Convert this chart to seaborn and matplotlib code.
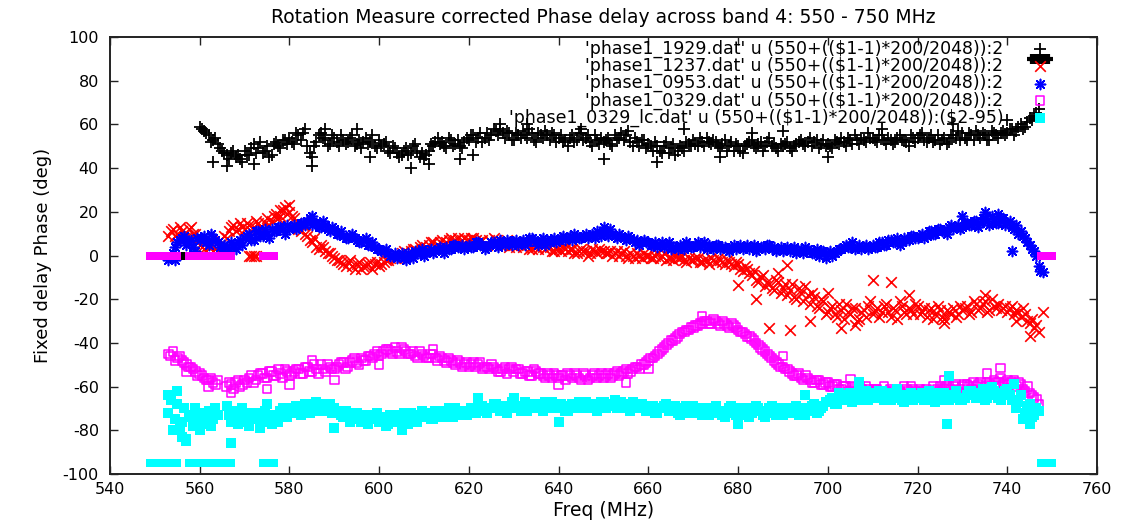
import numpy as np
import matplotlib
matplotlib.use("Agg")
import matplotlib.pyplot as plt
import seaborn as sns

# ---------------- data ----------------
# Each source has channels on a 0.5 MHz grid: "a" lists hold the whole-MHz
# channels, "b" lists the half-MHz channels in between; "out" lists hold the
# scattered stray channels (freq, value).
start_1929 = 560
phase_1929_a = [
    59, 57, 55, 53, 51, 48, 46, 47, 45, 44,
    48, 46, 51, 49, 47, 50, 46, 52, 49, 53,
    54, 51, 55, 56, 50, 45, 52, 56, 53, 51,
    54, 50, 53, 52, 55, 51, 49, 54, 52, 50,
    53, 51, 48, 50, 47, 46, 49, 47, 51, 45,
    44, 48, 50, 54, 52, 49, 53, 51, 50, 52,
    53, 55, 54, 52, 56, 55, 57, 58, 54, 56,
    53, 55, 57, 54, 56, 52, 55, 57, 53, 55,
    54, 52, 50, 55, 53, 56, 54, 52, 55, 51,
    52, 54, 50, 53, 56, 55, 52, 54, 50, 53,
    51, 48, 50, 47, 52, 49, 46, 50, 48, 51,
    53, 50, 52, 54, 51, 52, 49, 53, 50, 48,
    50, 47, 51, 53, 49, 52, 50, 54, 51, 48,
    50, 52, 48, 51, 53, 50, 54, 52, 49, 53,
    51, 49, 52, 54, 50, 53, 55, 51, 53, 56,
    54, 52, 55, 51, 53, 52, 55, 53, 50, 54,
    54, 56, 52, 55, 53, 51, 54, 52, 55, 57,
    56, 53, 55, 57, 54, 55, 53, 56, 54, 57,
    56, 58, 57, 60, 59, 63, 64, 67,
]
phase_1929_b = [
    58, 56, 52, 54, 49, 47, 44, 48, 46, 43,
    46, 49, 47, 52, 48, 45, 51, 50, 53, 51,
    52, 56, 53, 58, 47, 50, 55, 54, 50, 55,
    52, 55, 51, 54, 50, 53, 52, 51, 55, 49,
    50, 52, 47, 49, 45, 48, 46, 50, 48, 47,
    46, 51, 52, 51, 50, 54, 50, 53, 49, 54,
    55, 52, 56, 54, 53, 58, 55, 56, 57, 53,
    56, 54, 55, 58, 53, 56, 54, 55, 56, 52,
    55, 53, 54, 52, 56, 53, 55, 50, 53, 54,
    53, 51, 55, 54, 53, 57, 50, 52, 53, 49,
    50, 52, 48, 50, 47, 51, 48, 49, 52, 50,
    51, 54, 50, 52, 53, 50, 51, 48, 52, 51,
    48, 50, 52, 50, 51, 48, 52, 50, 49, 51,
    51, 49, 50, 52, 51, 52, 50, 53, 51, 50,
    50, 53, 51, 52, 54, 51, 53, 54, 52, 54,
    53, 55, 53, 54, 51, 54, 53, 52, 55, 52,
    55, 53, 54, 52, 55, 53, 51, 55, 54, 53,
    54, 56, 53, 55, 56, 53, 57, 55, 56, 55,
    58, 55, 59, 58, 61, 62, 65,
]
out_1929_f = [563, 566, 572, 585, 588, 595, 607, 611, 618, 627, 633, 645,
              650, 662, 668, 676, 690, 700, 712, 728, 740, 598, 621, 683]
out_1929_v = [43, 41, 42, 41, 58, 58, 40, 42, 44, 60, 60, 58,
              44, 43, 58, 45, 57, 45, 58, 60, 62, 45, 46, 56]

start_1237 = 553
phase_1237_a = [
    9, 12, 10, 11, 8, 13, 10,
    5, 3, 4, 2, 6, 4, 8, 13, 11, 15,
    12, 14, 13, 15, 12, 17, 16, 19, 18, 22,
    20, 17, 12, 14, 9, 6, 4, 5, 2, 1,
    -1, -2, -4, -3, -5, -4, -6, -5, -3, -4,
    -5, -3, -2, 0, -1, 1, 0, 2, 3, 4,
    3, 5, 6, 5, 7, 6, 8, 7, 6, 8,
    7, 8, 6, 7, 5, 6, 7, 5, 6, 4,
    5, 6, 4, 5, 3, 4, 5, 3, 4, 2,
    3, 4, 2, 3, 1, 3, 2, 1, 2, 3,
    2, 1, 0, 2, 1, 0, 1, -1, 0, 1,
    0, -1, 1, 0, -2, -1, 0, -1, -2, -1,
    -2, -1, -3, -2, -1, -3, -2, -4, -3, -5,
    -4, -7, -6, -9, -11, -10, -14, -13, -16, -12,
    -15, -18, -13, -20, -17, -14, -22, -19, -24, -21,
    -26, -23, -28, -25, -22, -27, -24, -29, -25, -23,
    -27, -24, -26, -22, -28, -25, -21, -26, -24, -27,
    -23, -26, -28, -24, -27, -25, -29, -26, -24, -27,
    -25, -23, -26, -22, -24, -21, -25, -23, -22, -24,
    -26, -23, -25, -28, -27, -31, -33, -35,
]
phase_1237_b = [
    11, 9, 13, 8, 12, 10, 7,
    4, 2, 5, 3, 7, 9, 11, 14, 12, 13,
    15, 11, 16, 13, 15, 14, 18, 17, 21, 19,
    18, 15, 11, 10, 7, 8, 3, 4, 1, 0,
    -2, -3, -5, -2, -6, -3, -5, -4, -6, -3,
    -4, -2, -1, -1, 0, 2, 1, 3, 2, 5,
    4, 6, 4, 6, 5, 7, 6, 8, 7, 7,
    8, 7, 6, 5, 7, 8, 6, 5, 7, 5,
    4, 5, 6, 3, 5, 3, 4, 4, 2, 3,
    2, 3, 3, 1, 2, 2, 0, 3, 1, 2,
    1, 2, 1, 0, 2, -1, 0, 1, -1, 0,
    -1, 0, -1, 1, -1, -2, -1, 0, -3, -2,
    -1, -3, -2, -4, -2, -1, -3, -2, -4, -3,
    -6, -5, -8, -7, -12, -9, -12, -15, -11, -17,
    -13, -16, -19, -15, -21, -18, -17, -23, -20, -27,
    -24, -27, -22, -29, -26, -24, -30, -26, -28, -21,
    -25, -28, -23, -26, -24, -29, -23, -27, -25, -22,
    -27, -24, -25, -29, -23, -28, -25, -27, -28, -23,
    -24, -27, -21, -25, -22, -26, -20, -24, -25, -23,
    -24, -27, -26, -24, -30, -29, -32,
]
out_1237_f = [578, 580, 691, 687, 691.5, 710, 714, 700, 748, 745, 680,
              684, 696, 703, 718, 726, 735, 742, 689, 706]
out_1237_v = [21, 23, -4.5, -33, -34, -11, -12, -17, -26, -37, -13.5,
              -20, -30, -33, -18, -31, -18, -30, -8, -32]

start_0953 = 553
phase_0953_a = [
    -2, 1, 6, 8, 5, 7, 2,
    7, 9, 5, 8, 6, 3, 4, 6, 3, 7,
    8, 10, 7, 11, 9, 10, 12, 11, 13, 10,
    12, 14, 13, 15, 16, 14, 15, 13, 14, 11,
    12, 10, 9, 8, 10, 7, 6, 8, 5, 4,
    3, 2, 1, 0, -1, 1, -2, 0, 2, 1,
    0, 2, 1, 3, 2, 4, 3, 5, 4, 3,
    5, 4, 6, 5, 4, 6, 5, 7, 5, 6,
    6, 5, 7, 6, 8, 6, 7, 5, 6, 8,
    7, 9, 8, 7, 9, 8, 10, 9, 8, 10,
    11, 9, 10, 8, 9, 7, 8, 6, 5, 7,
    6, 5, 4, 6, 5, 3, 4, 5, 3, 5,
    4, 6, 5, 3, 4, 5, 3, 4, 2, 5,
    4, 3, 5, 4, 2, 4, 3, 5, 4, 3,
    2, 4, 3, 1, 3, 4, 2, 1, 0, 2,
    1, 0, 2, 3, 5, 4, 3, 5, 4, 3,
    5, 4, 6, 5, 7, 6, 5, 8, 7, 9,
    8, 10, 9, 11, 10, 12, 11, 13, 12, 14,
    13, 15, 14, 16, 15, 17, 14, 16, 15, 17,
    15, 13, 14, 11, 8, 5, 2, -5,
]
phase_0953_b = [
    0, 4, 7, 9, 6, 4, 8,
    8, 6, 10, 7, 4, 5, 2, 5, 6, 5,
    9, 7, 11, 9, 12, 8, 11, 13, 12, 14,
    13, 12, 15, 14, 17, 15, 13, 16, 12, 13,
    10, 11, 8, 9, 8, 6, 7, 5, 6, 3,
    2, 3, 0, 1, 0, -1, 1, -1, 1, 3,
    1, 3, 2, 4, 1, 3, 5, 4, 5, 4,
    4, 6, 5, 3, 5, 6, 4, 6, 7, 5,
    7, 6, 5, 8, 7, 5, 8, 7, 7, 6,
    8, 7, 9, 10, 8, 9, 8, 10, 11, 9,
    10, 12, 9, 10, 8, 9, 7, 7, 6, 6,
    5, 6, 5, 4, 6, 4, 3, 4, 6, 4,
    5, 4, 6, 5, 3, 5, 4, 3, 4, 3,
    5, 4, 3, 5, 3, 4, 5, 3, 2, 4,
    3, 2, 4, 2, 1, 3, 1, 3, 2, -1,
    2, 1, 3, 4, 4, 6, 4, 3, 5, 4,
    4, 6, 5, 7, 6, 8, 6, 7, 9, 8,
    9, 8, 11, 10, 12, 11, 10, 14, 13, 12,
    15, 14, 16, 13, 17, 16, 18, 15, 17, 14,
    16, 12, 10, 9, 6, 3, 0,
]
out_0953_f = [741, 748, 747.3, 553.5, 554.5, 585, 650, 735, 738, 730]
out_0953_v = [2, -7.5, -7, 0, -2, 18, 13, 20, 19, 18]

start_0329 = 553
phase_0329_a = [
    -45, -44, -47, -48, -50, -51, -53,
    -54, -56, -57, -58, -57, np.nan, -60, -59, -58, -60,
    -57, -56, -58, -55, -54, -56, -53, -55, -54, -52,
    -55, -53, -52, -54, -51, -53, -52, -50, -53, -51,
    -52, -50, -49, -51, -48, -49, -47, -48, -46, -45,
    -46, -44, -43, -45, -44, -42, -44, -45, -46, -44,
    -46, -47, -45, -48, -47, -49, -48, -50, -49, -50,
    -51, -49, -50, -52, -51, -50, -52, -53, -51, -52,
    -53, -52, -54, -53, -55, -53, -54, -56, -55, -54,
    -56, -55, -54, -56, -55, -57, -55, -56, -54, -55,
    -56, -54, -55, -53, -54, -52, -53, -51, -52, -50,
    -48, -47, -45, -43, -41, -39, -38, -36, -35, -34,
    -33, -32, -31, -30, -31, -30, -32, -31, -33, -32,
    -34, -35, -37, -38, -40, -42, -44, -46, -48, -50,
    -51, -52, -54, -55, -56, -55, -57, -58, -57, -59,
    -58, -60, -59, -61, -60, -62, -61, -60, -62, -61,
    -62, -61, -63, -62, -61, -63, -62, -60, -62, -61,
    -63, -62, -61, -63, -62, -60, -61, -59, -60, -62,
    -60, -59, -61, -60, -58, -60, -59, -57, -58, -59,
    -57, -58, -60, -59, -62, -63, -65, -68,
]
phase_0329_b = [
    -46, -48, -46, -49, -51, -52, -55,
    -55, -57, -56, -59, np.nan, np.nan, -58, -61, -57, -59,
    -58, -55, -57, -54, -56, -53, -55, -52, -56, -53,
    -54, -52, -54, -51, -53, -50, -54, -52, -50, -52,
    -51, -49, -52, -49, -47, -50, -48, -46, -47, -44,
    -45, -43, -44, -42, -45, -43, -45, -44, -47, -45,
    -47, -45, -47, -46, -48, -47, -49, -48, -51, -49,
    -50, -51, -49, -51, -52, -51, -53, -52, -54, -51,
    -52, -54, -53, -55, -52, -54, -55, -54, -56, -55,
    -55, -57, -55, -54, -56, -54, -57, -55, -56, -54,
    -55, -56, -54, -55, -53, -54, -52, -51, -50, -49,
    -47, -46, -44, -42, -40, -39, -37, -35, -34, -33,
    -32, -31, -30, -31, -29, -31, -30, -32, -31, -33,
    -35, -36, -37, -39, -41, -43, -45, -47, -49, -51,
    -52, -53, -55, -54, -57, -56, -58, -57, -59, -58,
    -60, -59, -61, -60, -62, -60, -62, -61, -60, -62,
    -61, -62, -60, -63, -62, -61, -63, -61, -60, -62,
    -61, -63, -62, -60, -61, -62, -60, -61, -59, -61,
    -59, -60, -58, -59, -61, -58, -60, -58, -56, -58,
    -59, -57, -58, -61, -60, -64, -66,
]
out_0329_f = [557, 562, 567, 575, 580, 590, 600, 640, 660, 690, 735.5, 738.5,
              705, 585, 612, 655, 672, 726]
out_0329_v = [-53, -60, -63, -61, -59, -57, -50, -59, -52, -46, -54, -51.5,
              -56.5, -48, -43, -58, -28, -57]

start_0329_lc = 553
phase_0329_lc_a = [
    -72, -80, -68, -76, -84, -73, -70,
    -74, -77, -71, -75, -73, np.nan, -69, -76, -72, -74,
    -73, -78, -75, -72, -76, -74, -77, -73, -71, -72,
    -70, -72, -69, -71, -68, -70, -67, -69, -71, -68,
    -70, -72, -74, -73, -75, -72, -76, -74, -73, -75,
    -76, -74, -77, -75, -73, -76, -74, -72, -75, -73,
    -74, -72, -75, -73, -71, -74, -72, -70, -73, -71,
    -72, -70, -71, -69, -72, -70, -68, -71, -69, -70,
    -68, -70, -69, -71, -68, -70, -69, -67, -70, -68,
    -70, -69, -71, -68, -70, -69, -67, -70, -68, -69,
    -67, -69, -68, -70, -67, -69, -71, -68, -70, -69,
    -71, -69, -72, -70, -68, -71, -69, -73, -70, -72,
    -69, -71, -73, -70, -72, -69, -71, -74, -70, -72,
    -71, -73, -70, -72, -69, -71, -74, -70, -72, -71,
    -73, -70, -72, -69, -71, -73, -70, -68, -71, -69,
    -67, -65, -68, -64, -66, -63, -65, -62, -64, -66,
    -63, -65, -62, -64, -66, -63, -65, -67, -64, -66,
    -65, -63, -66, -64, -67, -65, -63, -66, -64, -65,
    -66, -64, -62, -65, -63, -66, -64, -62, -65, -63,
    -61, -66, -70, -64, -72, -68, -73, -71,
]
phase_0329_lc_b = [
    -66, -75, -79, -70, -74, -78, -76,
    -72, -75, -78, -70, np.nan, np.nan, -73, -71, -77, -70,
    -76, -72, -74, -79, -71, -75, -73, -76, -70, -74,
    -71, -69, -73, -68, -72, -69, -71, -68, -70, -72,
    -71, -73, -71, -76, -72, -74, -73, -77, -74, -72,
    -74, -78, -73, -76, -75, -72, -77, -74, -76, -71,
    -73, -75, -71, -74, -73, -70, -74, -72, -71, -73,
    -70, -72, -69, -71, -70, -68, -70, -69, -72, -67,
    -69, -71, -67, -70, -69, -68, -71, -69, -67, -70,
    -68, -71, -69, -70, -67, -70, -69, -68, -71, -67,
    -70, -68, -66, -69, -70, -68, -67, -70, -68, -71,
    -69, -72, -70, -69, -71, -70, -72, -71, -69, -71,
    -72, -70, -71, -73, -70, -72, -73, -71, -69, -73,
    -70, -72, -74, -71, -70, -73, -71, -69, -73, -70,
    -71, -72, -70, -73, -70, -71, -69, -72, -70, -67,
    -66, -68, -63, -66, -64, -67, -63, -66, -62, -64,
    -64, -62, -66, -63, -65, -61, -66, -64, -63, -65,
    -64, -66, -62, -65, -63, -66, -64, -65, -62, -66,
    -65, -62, -64, -63, -61, -65, -60, -64, -66, -62,
    -64, -59, -67, -75, -69, -74, -70,
]
out_0329_lc_f = [553, 555, 557, 556, 567, 575, 605, 622, 727, 726.5, 707, 590,
                 640, 680, 695, 745, 560, 630]
out_0329_lc_v = [-64, -62, -85, -83, -86, -68, -80, -65, -55, -77, -58, -79,
                 -76, -77, -64, -77, -80, -65]

# flagged channel ranges (MHz) and the values the files hold there
flag_ranges_0329 = [(549.0, 555.0), (557.5, 567.0), (574.0, 576.5), (747.5, 750.0)]
flag_value_0329 = 0.0
lc_offset = -95.0
flag_ranges_1929 = [(555.5, 557.0)]
flag_value_1929 = 0.0
flag_ranges_1929_hi = [(745.5, 749.0)]
flag_value_1929_hi = 90.0
flag_ranges_1237 = [(571.0, 572.5)]
flag_value_1237 = 0.0

labels = [
    "'phase1_1929.dat' u (550+(($1-1)*200/2048)):2",
    "'phase1_1237.dat' u (550+(($1-1)*200/2048)):2",
    "'phase1_0953.dat' u (550+(($1-1)*200/2048)):2",
    "'phase1_0329.dat' u (550+(($1-1)*200/2048)):2",
    "'phase1_0329_lc.dat' u (550+(($1-1)*200/2048)):($2-95)",
]
title = "Rotation Measure corrected Phase delay across band 4: 550 - 750 MHz"
xlabel = "Freq (MHz)"
ylabel = "Fixed delay Phase (deg)"
xticks = [540, 560, 580, 600, 620, 640, 660, 680, 700, 720, 740, 760]
yticks = [-100, -80, -60, -40, -20, 0, 20, 40, 60, 80, 100]


def series(start, a, b, of, ov):
    fa = start + np.arange(len(a), dtype=float)
    fb = start + 0.5 + np.arange(len(b), dtype=float)
    x = np.concatenate([fa, fb, np.asarray(of, dtype=float)])
    y = np.concatenate([np.asarray(a, dtype=float), np.asarray(b, dtype=float),
                        np.asarray(ov, dtype=float)])
    ok = ~np.isnan(y)
    return x[ok], y[ok]


def flag_freqs(ranges):
    return np.concatenate([np.arange(a, b + 0.01, 0.5) for a, b in ranges])


def esc(s):
    return s.replace("$", r"\$")


# ---------------- style ----------------
sns.set_style("ticks")
plt.rcParams["font.family"] = ["DejaVu Sans"]
plt.rcParams["axes.unicode_minus"] = False
plt.rcParams["axes.linewidth"] = 1.4
plt.rcParams["xtick.direction"] = "in"
plt.rcParams["ytick.direction"] = "in"
for key in ["text.color", "axes.labelcolor", "xtick.color", "ytick.color",
            "xtick.labelcolor", "ytick.labelcolor"]:
    plt.rcParams[key] = "black"

fig = plt.figure(figsize=(11.25, 5.25), dpi=100)
ax = fig.add_axes([110 / 1125, 1 - 474 / 525, 987 / 1125, 437 / 525])

BLACK, RED, BLUE, MAG, CYAN = "#000000", "#ff0000", "#0000ff", "#ff00ff", "#00ffff"
asterisk = (8, 2, 0)

# 1929
x, y = series(start_1929, phase_1929_a, phase_1929_b, out_1929_f, out_1929_v)
sns.scatterplot(x=x, y=y, marker="+", color=BLACK, s=70, linewidth=1.3, ax=ax,
                label=esc(labels[0]), zorder=2)
ff = flag_freqs(flag_ranges_1929)
sns.scatterplot(x=ff, y=np.full(len(ff), flag_value_1929), marker="s", color=BLACK,
                edgecolor=BLACK, s=30, linewidth=0, ax=ax, zorder=2, legend=False)
ff = flag_freqs(flag_ranges_1929_hi)
sns.scatterplot(x=ff, y=np.full(len(ff), flag_value_1929_hi), marker="+", color=BLACK,
                s=55, linewidth=3.0, ax=ax, zorder=2, legend=False)

# 1237
x, y = series(start_1237, phase_1237_a, phase_1237_b, out_1237_f, out_1237_v)
sns.scatterplot(x=x, y=y, marker="x", color=RED, s=58, linewidth=1.2, ax=ax,
                label=esc(labels[1]), zorder=3)
ff = flag_freqs(flag_ranges_1237)
sns.scatterplot(x=ff, y=np.full(len(ff), flag_value_1237), marker="x", color=RED,
                s=58, linewidth=1.2, ax=ax, zorder=3, legend=False)

# 0953
x, y = series(start_0953, phase_0953_a, phase_0953_b, out_0953_f, out_0953_v)
sns.scatterplot(x=x, y=y, marker=asterisk, color=BLUE, s=52, linewidth=1.2, ax=ax,
                label=esc(labels[2]), zorder=4)

# 0329
x, y = series(start_0329, phase_0329_a, phase_0329_b, out_0329_f, out_0329_v)
sns.scatterplot(x=x, y=y, marker="s", facecolor="none", edgecolor=MAG, s=38,
                linewidth=1.1, ax=ax, label=esc(labels[3]), zorder=5)
ff = flag_freqs(flag_ranges_0329)
sns.scatterplot(x=ff, y=np.full(len(ff), flag_value_0329), marker="s", color=MAG,
                edgecolor=MAG, s=34, linewidth=0, ax=ax, zorder=5, legend=False)

# 0329_lc
x, y = series(start_0329_lc, phase_0329_lc_a, phase_0329_lc_b,
              out_0329_lc_f, out_0329_lc_v)
sns.scatterplot(x=x, y=y, marker="s", color=CYAN, edgecolor=CYAN, s=50, linewidth=0,
                ax=ax, label=esc(labels[4]), zorder=6)
sns.scatterplot(x=ff, y=np.full(len(ff), flag_value_0329 + lc_offset), marker="s",
                color=CYAN, edgecolor=CYAN, s=34, linewidth=0, ax=ax, zorder=6,
                legend=False)

ax.set_xlim(540, 760)
ax.set_ylim(-100, 100)
ax.set_xticks(xticks)
ax.set_yticks(yticks)
ax.tick_params(axis="both", which="major", length=6, width=1.0, labelsize=11.5,
               top=True, right=True, color="#222222", labelcolor="black")
ax.tick_params(axis="x", pad=6)
ax.tick_params(axis="y", pad=8)
for sp in ax.spines.values():
    sp.set_visible(True)
    sp.set_color("#222222")
ax.set_xlabel(xlabel, fontsize=13.5, labelpad=3, color="black")
ax.set_ylabel(ylabel, fontsize=13, labelpad=8, color="black")
ax.set_title(title, fontsize=13.5, pad=10, color="black")

leg = ax.legend(loc="upper right", bbox_to_anchor=(0.9597, 0.994), markerfirst=False,
                frameon=False, fontsize=12.5, labelspacing=-0.06, handletextpad=1.11,
                handlelength=2.0, borderpad=0, borderaxespad=0, scatterpoints=1)
for t in leg.get_texts():
    t.set_color("black")

fig.savefig("out.png", dpi=100)
